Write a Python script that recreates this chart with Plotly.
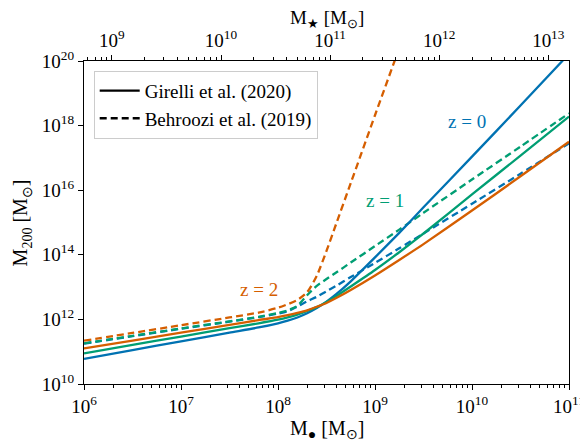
import plotly.graph_objects as go

# ---- data (log10 values) ----
log_mbh = [6, 6.5, 7, 7.5, 7.8, 8.0, 8.1, 8.2, 8.3, 8.4, 8.5, 8.6, 8.75, 9.0, 9.25, 9.5, 10, 10.5, 11]

girelli_z0 = [10.78, 11.05, 11.32, 11.59, 11.75, 11.88, 11.96, 12.06, 12.19, 12.35, 12.55, 12.78, 13.18, 13.92, 14.68, 15.47, 17.04, 18.62, 20.22]
girelli_z1 = [10.95, 11.21, 11.47, 11.73, 11.88, 11.99, 12.06, 12.15, 12.26, 12.38, 12.54, 12.72, 13.02, 13.53, 14.08, 14.66, 15.87, 17.07, 18.28]
girelli_z2 = [11.10, 11.345, 11.59, 11.83, 11.98, 12.07, 12.13, 12.20, 12.28, 12.39, 12.51, 12.66, 12.91, 13.36, 13.84, 14.33, 15.37, 16.43, 17.50]

behroozi_z0 = [11.25, 11.48, 11.71, 11.93, 12.07, 12.18, 12.25, 12.40, 12.56, 12.70, 12.87, 13.04, 13.31, 13.75, 14.20, 14.66, 15.58, 16.51, 17.45]
behroozi_z1 = [11.26, 11.49, 11.72, 11.94, 12.08, 12.20, 12.28, 12.42, 12.75, 13.04, 13.25, 13.45, 13.76, 14.27, 14.78, 15.30, 16.33, 17.35, 18.38]
behroozi_z2 = [11.34, 11.58, 11.82, 12.06, 12.21, 12.36, 12.47, 12.60, 12.84, 13.35, 14.12, 14.96, 16.22, 18.32, 20.40, None, None, None, None]

x_ticks = [1e6, 1e7, 1e8, 1e9, 1e10, 1e11]
x_ticktext = ["10<sup>6</sup>", "10<sup>7</sup>", "10<sup>8</sup>", "10<sup>9</sup>", "10<sup>10</sup>", "10<sup>11</sup>"]
top_ticks = [1e9, 1e10, 1e11, 1e12, 1e13]
top_ticktext = ["10<sup>9</sup>", "10<sup>10</sup>", "10<sup>11</sup>", "10<sup>12</sup>", "10<sup>13</sup>"]
y_ticks = [1e10, 1e12, 1e14, 1e16, 1e18, 1e20]
y_ticktext = ["10<sup>10</sup>", "10<sup>12</sup>", "10<sup>14</sup>", "10<sup>16</sup>", "10<sup>18</sup>", "10<sup>20</sup>"]

z_labels = ["z = 0", "z = 1", "z = 2"]
label_pos_logx = [9.95, 9.10, 7.80]
label_pos_logy = [18.14, 15.67, 12.94]

colors = ["#0072B2", "#009E73", "#D55E00"]
FONT = "Liberation Serif"
FS = 19

x_vals = [10 ** v for v in log_mbh]


def lin(vals):
    return [None if v is None else 10 ** v for v in vals]


fig = go.Figure()

for vals, c in zip([behroozi_z0, behroozi_z1, behroozi_z2], colors):
    fig.add_trace(go.Scatter(x=x_vals, y=lin(vals), mode="lines",
                             line=dict(color=c, width=2.3, dash="7px,4px", shape="spline", smoothing=0.6),
                             showlegend=False, hoverinfo="skip"))
for vals, c in zip([girelli_z0, girelli_z1, girelli_z2], colors):
    fig.add_trace(go.Scatter(x=x_vals, y=lin(vals), mode="lines",
                             line=dict(color=c, width=2.3, shape="spline", smoothing=0.6),
                             showlegend=False, hoverinfo="skip"))

fig.add_trace(go.Scatter(x=[None], y=[None], mode="lines", name="Girelli et al. (2020)",
                         line=dict(color="black", width=2.3)))
fig.add_trace(go.Scatter(x=[None], y=[None], mode="lines", name="Behroozi et al. (2019)",
                         line=dict(color="black", width=2.3, dash="7px,4px")))

fig.add_trace(go.Scatter(x=[1e10], y=[1e5], xaxis="x2", mode="markers",
                         marker=dict(opacity=0), showlegend=False, hoverinfo="skip"))

minor_bottom = [m * 10 ** d for d in range(6, 11) for m in range(2, 10)]
minor_top = [m * 10 ** d for d in range(8, 14) for m in range(2, 10)]

for lab, lx, ly, c in zip(z_labels, label_pos_logx, label_pos_logy, colors):
    fig.add_annotation(x=lx, y=ly, xref="x", yref="y", text=lab, showarrow=False,
                       font=dict(family=FONT, size=FS, color=c))

# axis titles as paper annotations
fig.add_annotation(x=0.5, y=-0.142, xref="paper", yref="paper", yanchor="middle",
                   text="M<sub>\u25CF</sub> [M<sub>\u2299</sub>]", showarrow=False,
                   font=dict(family=FONT, size=20))
fig.add_annotation(x=0.5, y=1.13, xref="paper", yref="paper", yanchor="middle",
                   text="M<sub>\u2605</sub> [M<sub>\u2299</sub>]", showarrow=False,
                   font=dict(family=FONT, size=19))
fig.add_annotation(x=-0.128, y=0.5, xref="paper", yref="paper", xanchor="center",
                   text="M<sub>200</sub> [M<sub>\u2299</sub>]", showarrow=False, textangle=-90,
                   font=dict(family=FONT, size=20))

axis_common = dict(showgrid=False, zeroline=False, showline=True, linecolor="black", linewidth=1.2,
                   ticks="outside", ticklen=5, tickwidth=1, tickcolor="black",
                   tickfont=dict(family=FONT, size=FS), automargin=False, tickmode="array")

# page has an 8px body margin, so the figure is 8px smaller and margins shifted
fig.update_layout(
    width=580, height=437,
    margin=dict(l=76, r=19, t=53, b=61, autoexpand=False),
    paper_bgcolor="white", plot_bgcolor="white",
    font=dict(family=FONT, size=FS, color="black"),
    showlegend=True,
    legend=dict(x=0.02, y=0.97, xanchor="left", yanchor="top",
                bgcolor="rgba(255,255,255,0.85)", bordercolor="#cccccc", borderwidth=1,
                font=dict(family=FONT, size=FS), tracegroupgap=0, itemwidth=40),
    xaxis=dict(type="log", range=[6, 11], tickvals=x_ticks, ticktext=x_ticktext,
               minor=dict(ticks="outside", ticklen=3, tickwidth=1, tickcolor="black",
                          tickmode="array", tickvals=minor_bottom, showgrid=False),
               **axis_common),
    xaxis2=dict(type="log", range=[8.744, 13.19], overlaying="x", side="top", anchor="y",
                tickvals=top_ticks, ticktext=top_ticktext,
                minor=dict(ticks="outside", ticklen=3, tickwidth=1, tickcolor="black",
                           tickmode="array", tickvals=minor_top, showgrid=False),
                **axis_common),
    yaxis=dict(type="log", range=[10, 20], tickvals=y_ticks, ticktext=y_ticktext, mirror=True,
               **axis_common),
)

fig.write_html("out.html")
